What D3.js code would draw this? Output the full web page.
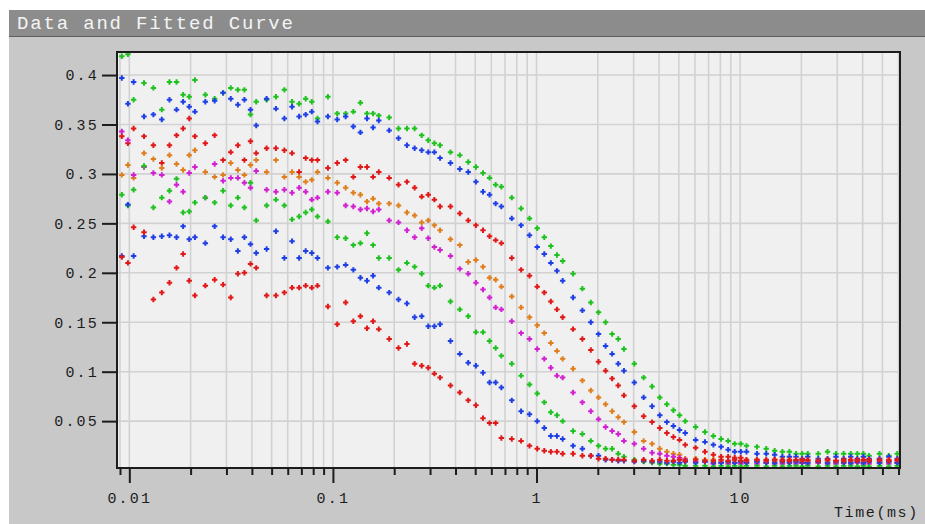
<!DOCTYPE html>
<html>
<head>
<meta charset="utf-8">
<script src="https://cdn.jsdelivr.net/npm/d3@7"></script>
<style>
  body { margin: 0; background: #ffffff; }
  svg text { font-family: "Liberation Mono", "DejaVu Sans Mono", monospace; }
</style>
</head>
<body>
<script>
// correlator lag times (ms), shared by every curve
const times = [
  0.009188, 0.009844, 0.0105,
  0.01181, 0.01313, 0.01444, 0.01575, 0.01706, 0.01838, 0.01969, 0.021,
  0.02363, 0.02625, 0.02888, 0.0315, 0.03413, 0.03675, 0.03938, 0.042,
  0.04725, 0.0525, 0.05775, 0.063, 0.06825, 0.0735, 0.07875, 0.084,
  0.0945, 0.105, 0.1155, 0.126, 0.1365, 0.147, 0.1575, 0.168,
  0.189, 0.21, 0.231, 0.252, 0.273, 0.294, 0.315, 0.336,
  0.378, 0.42, 0.462, 0.504, 0.546, 0.588, 0.63, 0.672,
  0.756, 0.84, 0.924, 1.008, 1.092, 1.176, 1.26, 1.344,
  1.512, 1.68, 1.848, 2.016, 2.184, 2.352, 2.52, 2.688,
  3.024, 3.36, 3.696, 4.032, 4.368, 4.704, 5.04, 5.376,
  6.048, 6.72, 7.392, 8.064, 8.736, 9.408, 10.08, 10.75,
  12.1, 13.44, 14.78, 16.13, 17.47, 18.82, 20.16, 21.5,
  24.19, 26.88, 29.57, 32.26, 34.94, 37.63, 40.32, 43.01,
  48.38, 53.76, 59.14
];

const green1 = [
  0.419, 0.421, 0.375,
  0.392, 0.387, 0.365, 0.393, 0.393, 0.380, 0.378, 0.395,
  0.380, 0.376, 0.382, 0.387, 0.385, 0.385, 0.360, 0.373,
  0.375, 0.378, 0.385, 0.373, 0.371, 0.376, 0.373, 0.356,
  0.378, 0.361, 0.361, 0.363, 0.372, 0.361, 0.361, 0.359,
  0.357, 0.346, 0.346, 0.346, 0.339, 0.334, 0.331, 0.329,
  0.322, 0.319, 0.312, 0.307, 0.301, 0.296, 0.289, 0.287,
  0.276, 0.265, 0.255, 0.245, 0.236, 0.227, 0.218, 0.212,
  0.199, 0.184, 0.170, 0.160, 0.150, 0.138, 0.133, 0.123,
  0.108, 0.094, 0.085, 0.074, 0.067, 0.061, 0.056, 0.050,
  0.044, 0.039, 0.035, 0.032, 0.030, 0.027, 0.027, 0.025,
  0.024, 0.022, 0.020, 0.019, 0.019, 0.017, 0.017, 0.017,
  0.017, 0.019, 0.017, 0.017, 0.017, 0.017, 0.017, 0.015,
  0.017, 0.015, 0.017
];

const blue1 = [
  0.397, 0.371, 0.393,
  0.358, 0.360, 0.355, 0.375, 0.365, 0.373, 0.368, 0.363,
  0.373, 0.374, 0.382, 0.376, 0.370, 0.375, 0.365, 0.349,
  0.376, 0.366, 0.356, 0.368, 0.358, 0.360, 0.363, 0.353,
  0.358, 0.355, 0.358, 0.348, 0.342, 0.356, 0.347, 0.354,
  0.344, 0.336, 0.329, 0.326, 0.324, 0.322, 0.322, 0.316,
  0.311, 0.305, 0.302, 0.292, 0.282, 0.279, 0.270, 0.267,
  0.255, 0.248, 0.238, 0.226, 0.219, 0.210, 0.202, 0.192,
  0.175, 0.162, 0.150, 0.138, 0.126, 0.118, 0.108, 0.101,
  0.089, 0.074, 0.065, 0.056, 0.049, 0.045, 0.041, 0.038,
  0.031, 0.029, 0.026, 0.024, 0.021, 0.019, 0.019, 0.019,
  0.017, 0.017, 0.016, 0.014, 0.014, 0.014, 0.012, 0.014,
  0.012, 0.012, 0.014, 0.012, 0.014, 0.012, 0.014, 0.012,
  0.012, 0.014, 0.012
];

const red1 = [
  0.338, 0.331, 0.346,
  0.338, 0.329, 0.311, 0.329, 0.339, 0.346, 0.356, 0.338,
  0.331, 0.339, 0.314, 0.322, 0.329, 0.314, 0.333, 0.321,
  0.326, 0.326, 0.324, 0.321, 0.302, 0.316, 0.314, 0.314,
  0.306, 0.311, 0.314, 0.297, 0.307, 0.307, 0.297, 0.302,
  0.296, 0.289, 0.292, 0.286, 0.277, 0.279, 0.274, 0.267,
  0.267, 0.260, 0.253, 0.248, 0.243, 0.237, 0.233, 0.230,
  0.215, 0.203, 0.197, 0.186, 0.180, 0.171, 0.163, 0.155,
  0.143, 0.133, 0.122, 0.110, 0.101, 0.093, 0.086, 0.076,
  0.065, 0.055, 0.049, 0.043, 0.038, 0.034, 0.031, 0.026,
  0.023, 0.019, 0.016, 0.014, 0.014, 0.013, 0.013, 0.011,
  0.011, 0.011, 0.011, 0.011, 0.011, 0.010, 0.011, 0.010,
  0.010, 0.011, 0.010, 0.011, 0.010, 0.011, 0.010, 0.011,
  0.010, 0.011, 0.010
];

const orange1 = [
  0.299, 0.309, 0.296,
  0.321, 0.315, 0.306, 0.319, 0.310, 0.304, 0.319, 0.324,
  0.302, 0.297, 0.299, 0.311, 0.304, 0.299, 0.309, 0.314,
  0.302, 0.314, 0.297, 0.302, 0.297, 0.292, 0.294, 0.302,
  0.296, 0.291, 0.286, 0.281, 0.279, 0.272, 0.275, 0.270,
  0.270, 0.268, 0.261, 0.258, 0.251, 0.253, 0.248, 0.243,
  0.234, 0.228, 0.211, 0.213, 0.206, 0.195, 0.193, 0.186,
  0.176, 0.165, 0.155, 0.147, 0.139, 0.129, 0.121, 0.113,
  0.103, 0.091, 0.081, 0.074, 0.067, 0.060, 0.054, 0.049,
  0.039, 0.030, 0.027, 0.022, 0.019, 0.017, 0.016, 0.012,
  0.012, 0.011, 0.011, 0.009, 0.009, 0.008, 0.009, 0.008,
  0.009, 0.008, 0.009, 0.008, 0.009, 0.009, 0.008, 0.009,
  0.008, 0.009, 0.008, 0.009, 0.008, 0.009, 0.008, 0.009,
  0.008, 0.009, 0.008
];

const magenta1 = [
  0.343, 0.334, 0.299,
  0.307, 0.301, 0.299, 0.272, 0.289, 0.282, 0.301, 0.307,
  0.276, 0.310, 0.293, 0.296, 0.296, 0.291, 0.286, 0.303,
  0.284, 0.282, 0.284, 0.281, 0.286, 0.282, 0.274, 0.276,
  0.282, 0.281, 0.268, 0.267, 0.264, 0.265, 0.262, 0.264,
  0.253, 0.251, 0.243, 0.236, 0.245, 0.235, 0.226, 0.223,
  0.217, 0.204, 0.199, 0.190, 0.183, 0.175, 0.165, 0.163,
  0.151, 0.139, 0.133, 0.123, 0.113, 0.104, 0.096, 0.094,
  0.079, 0.069, 0.060, 0.052, 0.044, 0.040, 0.037, 0.030,
  0.027, 0.022, 0.018, 0.017, 0.015, 0.014, 0.013, 0.011,
  0.009, 0.009, 0.007, 0.008, 0.007, 0.008, 0.007, 0.008,
  0.007, 0.008, 0.007, 0.007, 0.008, 0.007, 0.008, 0.007,
  0.008, 0.007, 0.007, 0.008, 0.007, 0.008, 0.007, 0.007,
  0.008, 0.007, 0.008
];

const green2 = [
  0.279, 0.268, 0.284,
  0.308, 0.266, 0.276, 0.283, 0.295, 0.261, 0.262, 0.271,
  0.276, 0.271, 0.283, 0.268, 0.276, 0.266, 0.291, 0.253,
  0.268, 0.274, 0.268, 0.254, 0.257, 0.261, 0.264, 0.257,
  0.252, 0.236, 0.235, 0.228, 0.230, 0.240, 0.228, 0.215,
  0.215, 0.203, 0.210, 0.206, 0.199, 0.187, 0.185, 0.187,
  0.171, 0.163, 0.156, 0.140, 0.140, 0.131, 0.124, 0.116,
  0.108, 0.096, 0.087, 0.078, 0.069, 0.059, 0.056, 0.050,
  0.040, 0.037, 0.030, 0.025, 0.022, 0.022, 0.017, 0.014,
  0.011, 0.009, 0.008, 0.007, 0.007, 0.006, 0.006, 0.005,
  0.005, 0.005, 0.004, 0.005, 0.004, 0.005, 0.004, 0.005,
  0.005, 0.004, 0.005, 0.004, 0.005, 0.005, 0.004, 0.005,
  0.004, 0.005, 0.004, 0.005, 0.005, 0.004, 0.005, 0.004,
  0.005, 0.004, 0.005
];

const blue2 = [
  0.217, 0.269, 0.217,
  0.237, 0.236, 0.237, 0.238, 0.236, 0.247, 0.234, 0.236,
  0.230, 0.247, 0.236, 0.234, 0.222, 0.236, 0.229, 0.220,
  0.224, 0.242, 0.215, 0.232, 0.215, 0.222, 0.220, 0.215,
  0.205, 0.206, 0.208, 0.203, 0.195, 0.192, 0.197, 0.185,
  0.180, 0.173, 0.169, 0.155, 0.156, 0.146, 0.146, 0.148,
  0.131, 0.118, 0.109, 0.106, 0.099, 0.089, 0.089, 0.084,
  0.071, 0.060, 0.057, 0.050, 0.043, 0.035, 0.035, 0.032,
  0.025, 0.022, 0.015, 0.015, 0.011, 0.011, 0.010, 0.010,
  0.009, 0.010, 0.009, 0.009, 0.008, 0.009, 0.008, 0.009,
  0.008, 0.009, 0.008, 0.008, 0.009, 0.008, 0.009, 0.008,
  0.009, 0.008, 0.008, 0.009, 0.008, 0.009, 0.008, 0.008,
  0.009, 0.008, 0.009, 0.008, 0.008, 0.009, 0.008, 0.009,
  0.008, 0.009, 0.008
];

const red2 = [
  0.216, 0.210, 0.246,
  0.241, 0.173, 0.180, 0.190, 0.205, 0.219, 0.192, 0.177,
  0.187, 0.193, 0.188, 0.175, 0.199, 0.200, 0.209, 0.205,
  0.177, 0.177, 0.180, 0.185, 0.185, 0.187, 0.185, 0.187,
  0.166, 0.148, 0.170, 0.151, 0.156, 0.144, 0.151, 0.143,
  0.133, 0.124, 0.128, 0.108, 0.106, 0.104, 0.098, 0.094,
  0.086, 0.079, 0.071, 0.066, 0.053, 0.048, 0.048, 0.033,
  0.032, 0.030, 0.025, 0.022, 0.020, 0.019, 0.019, 0.017,
  0.017, 0.015, 0.015, 0.012, 0.012, 0.011, 0.011, 0.011,
  0.010, 0.011, 0.010, 0.011, 0.010, 0.010, 0.011, 0.010,
  0.011, 0.010, 0.010, 0.011, 0.010, 0.011, 0.010, 0.010,
  0.011, 0.010, 0.011, 0.010, 0.010, 0.011, 0.010, 0.011,
  0.010, 0.011, 0.010, 0.010, 0.011, 0.010, 0.011, 0.010,
  0.011, 0.010, 0.011
];

const xMajorTicks = [0.01, 0.1, 1, 10];
const xMajorLabels = ["0.01", "0.1", "1", "10"];
const xMinorTicks = [0.009,
  0.02, 0.03, 0.04, 0.05, 0.06, 0.07, 0.08, 0.09,
  0.2, 0.3, 0.4, 0.5, 0.6, 0.7, 0.8, 0.9,
  2, 3, 4, 5, 6, 7, 8, 9,
  20, 30, 40, 50, 60];
const yTicks = [0.05, 0.1, 0.15, 0.2, 0.25, 0.3, 0.35, 0.4];
const yTickLabels = ["0.05", "0.1", "0.15", "0.2", "0.25", "0.3", "0.35", "0.4"];

const series = [
  { values: green1, color: "#1ec21e" },
  { values: blue1, color: "#1f3fe6" },
  { values: red1, color: "#e01818" },
  { values: orange1, color: "#e07d1c" },
  { values: magenta1, color: "#d21fd2" },
  { values: green2, color: "#1ec21e" },
  { values: blue2, color: "#1f3fe6" },
  { values: red2, color: "#e01818" }
];

const W = 925, H = 524;
const plot = { left: 117, right: 900, top: 52, bottom: 468 };
const tickFont = { size: "15px", spacing: "2.2px", color: "#1c1c1c" };

const svg = d3.select("body").append("svg")
  .attr("width", W)
  .attr("height", H);

// window frame + title bar
svg.append("rect").attr("width", W).attr("height", H).attr("fill", "#ffffff");
svg.append("rect")
  .attr("x", 9).attr("y", 10)
  .attr("width", W - 9).attr("height", H - 10)
  .attr("fill", "#c8c8c8");
svg.append("rect")
  .attr("x", 9).attr("y", 10)
  .attr("width", W - 9).attr("height", 26)
  .attr("fill", "#8c8c8c");
svg.append("line")
  .attr("x1", 9).attr("x2", W)
  .attr("y1", 36.5).attr("y2", 36.5)
  .attr("stroke", "#5e5e5e");
svg.append("text")
  .attr("x", 17).attr("y", 28.5)
  .attr("textLength", 276)
  .attr("lengthAdjust", "spacing")
  .style("font-size", "19px")
  .attr("fill", "#f4f4f4")
  .text("Data and Fitted Curve");

const x = d3.scaleLog()
  .domain([0.0087, 61])
  .range([plot.left, plot.right]);

const y = d3.scaleLinear()
  .domain([0.0026, 0.4233])
  .range([plot.bottom, plot.top]);

svg.append("rect")
  .attr("x", plot.left).attr("y", plot.top)
  .attr("width", plot.right - plot.left)
  .attr("height", plot.bottom - plot.top)
  .attr("fill", "#f0f0f0");

// grid
const grid = svg.append("g").attr("stroke", "#d2d2d2").attr("stroke-width", 1.6);
grid.selectAll(".vgrid")
  .data(xMinorTicks.concat(xMajorTicks))
  .enter()
  .append("line")
    .attr("x1", (d) => x(d)).attr("x2", (d) => x(d))
    .attr("y1", plot.top).attr("y2", plot.bottom);
grid.selectAll(".hgrid")
  .data(yTicks)
  .enter()
  .append("line")
    .attr("x1", plot.left).attr("x2", plot.right)
    .attr("y1", (d) => y(d)).attr("y2", (d) => y(d));

// data points as small crosses
const plus = "M-2.7,0H2.7M0,-2.7V2.7";
series.forEach((s) => {
  const pts = times.map((t, i) => [t, s.values[i]]).filter((p) => p[1] != null);
  svg.append("g")
    .selectAll("path")
    .data(pts)
    .enter()
    .append("path")
      .attr("d", plus)
      .attr("transform", (d) => "translate(" + x(d[0]) + "," + y(d[1]) + ")")
      .attr("stroke", s.color)
      .attr("stroke-width", 2)
      .attr("fill", "none");
});

svg.append("rect")
  .attr("x", plot.left).attr("y", plot.top)
  .attr("width", plot.right - plot.left)
  .attr("height", plot.bottom - plot.top)
  .attr("fill", "none")
  .attr("stroke", "#1c1c1c")
  .attr("stroke-width", 2);

function styleAxis(g) {
  g.select(".domain").remove();
  g.selectAll(".tick line").attr("stroke", tickFont.color).attr("stroke-width", 2);
  g.selectAll(".tick text")
    .attr("fill", tickFont.color)
    .style("font-size", tickFont.size)
    .style("letter-spacing", tickFont.spacing);
}

// y axis
svg.append("g")
  .attr("transform", "translate(" + plot.left + ",0)")
  .call(d3.axisLeft(y).tickValues(yTicks).tickSize(15).tickPadding(3)
    .tickFormat((d, i) => yTickLabels[i]))
  .call(styleAxis);

// x axis, minor then major ticks
svg.append("g")
  .attr("transform", "translate(0," + plot.bottom + ")")
  .call(d3.axisBottom(x).tickValues(xMinorTicks).tickSize(7).tickFormat(""))
  .call(styleAxis);
svg.append("g")
  .attr("transform", "translate(0," + plot.bottom + ")")
  .call(d3.axisBottom(x).tickValues(xMajorTicks).tickSize(15).tickPadding(9)
    .tickFormat((d, i) => xMajorLabels[i]))
  .call(styleAxis);

svg.append("text")
  .attr("x", 834).attr("y", 517)
  .attr("fill", tickFont.color)
  .style("font-size", tickFont.size)
  .style("letter-spacing", "1.6px")
  .text("Time(ms)");
</script>
</body>
</html>
